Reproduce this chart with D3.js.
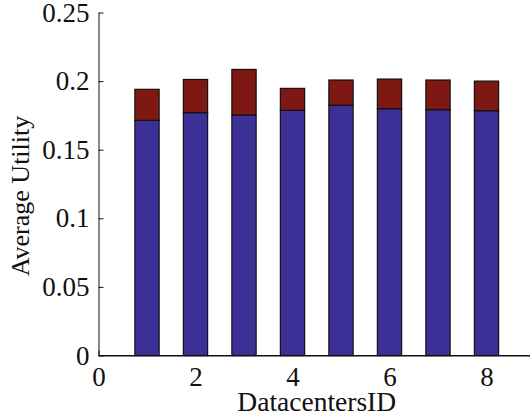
<!DOCTYPE html>
<html>
<head>
<meta charset="utf-8">
<script src="https://cdn.jsdelivr.net/npm/d3@7"></script>
</head>
<body style="margin:0">
<svg id="chart" width="530" height="418"></svg>
<script>
'use strict';

// datacenter ids and the two stacked parts of each bar
var datacenters = [1, 2, 3, 4, 5, 6, 7, 8];
var baseUtility = [0.1714, 0.1770, 0.1753, 0.1787, 0.1824, 0.1799, 0.1792, 0.1784];
var extraUtility = [0.0226, 0.0242, 0.0332, 0.0160, 0.0184, 0.0216, 0.0216, 0.0216];
var xTicks = [0, 2, 4, 6, 8];
var yTicks = [0, 0.05, 0.1, 0.15, 0.2, 0.25];

var svg = d3.select('#chart');

// pick the first times-like face that is really installed
function pickFont(candidates) {
    var probe = svg.append('text').style('font-size', '40px').text('DatacentersID Average');
    probe.style('font-family', 'monospace');
    var mono = probe.node().getComputedTextLength();
    var found = null;
    candidates.forEach(function(f) {
        if (found) return;
        probe.style('font-family', '"' + f + '", monospace');
        if (Math.abs(probe.node().getComputedTextLength() - mono) > 1) found = f;
    });
    probe.remove();
    return found ? '"' + found + '", serif' : 'serif';
}
var FONT = pickFont(['Liberation Serif', 'Times New Roman', 'Tinos', 'FreeSerif', 'DejaVu Serif']);

var plot = { left: 98.5, right: 535, top: 12.5, bottom: 355.5 };

var x = d3.scaleLinear().domain([0, 9]).range([plot.left, plot.right]);
var y = d3.scaleLinear().domain([0, 0.25]).range([plot.bottom, plot.top]);

var rows = datacenters.map(function(id, i) {
    return { id: id, base: baseUtility[i], extra: extraUtility[i] };
});
var stack = d3.stack().keys(['base', 'extra'])(rows);
var colors = ['#3c3096', '#7d1812'];

// axes (ticks point inward, like matlab)
var yAxis = d3.axisLeft(y).tickValues(yTicks).tickSizeInner(-5).tickSizeOuter(0)
    .tickPadding(9).tickFormat(function(d) { return d3.format('')(d); });
var xAxis = d3.axisBottom(x).tickValues(xTicks).tickSizeInner(-5).tickSizeOuter(0)
    .tickPadding(11);

var gy = svg.append('g').attr('transform', 'translate(' + plot.left + ',0)').call(yAxis);
var gx = svg.append('g').attr('transform', 'translate(0,' + plot.bottom + ')').call(xAxis);

[gx, gy].forEach(function(g) {
    g.attr('font-family', FONT).attr('font-size', 27);
    g.select('.domain').attr('stroke', '#111').attr('stroke-width', 1);
    g.selectAll('.tick line').attr('stroke', '#111');
    g.selectAll('.tick text')
        .style('font-family', FONT)
        .style('font-size', '27px')
        .attr('fill', '#111');
});
gx.selectAll('.tick text').attr('dy', '0.71em');

var barW = x(0.5) - x(0);
svg.append('g').selectAll('g')
    .data(stack)
    .enter().append('g')
        .attr('fill', function(d, i) { return colors[i]; })
    .selectAll('rect')
    .data(function(d) { return d; })
    .enter().append('rect')
        .attr('x', function(d) { return x(d.data.id) - barW / 2; })
        .attr('y', function(d) { return y(d[1]); })
        .attr('width', barW)
        .attr('height', function(d) { return y(d[0]) - y(d[1]); })
        .attr('stroke', '#111')
        .attr('stroke-width', 1.2);

// redraw the baseline on top of the bars
svg.append('line')
    .attr('x1', plot.left).attr('x2', plot.right)
    .attr('y1', plot.bottom).attr('y2', plot.bottom)
    .attr('stroke', '#111');

svg.append('text')
    .attr('x', (plot.left + plot.right) / 2)
    .attr('y', 411)
    .attr('text-anchor', 'middle')
    .attr('font-family', FONT)
    .style('font-family', FONT)
    .style('font-size', '27.5px')
    .attr('fill', '#111')
    .text('DatacentersID');

svg.append('text')
    .attr('transform', 'translate(29,' + ((plot.top + plot.bottom) / 2 + 12) + ') rotate(-90)')
    .attr('text-anchor', 'middle')
    .attr('font-family', FONT)
    .style('font-family', FONT)
    .style('font-size', '26px')
    .attr('fill', '#111')
    .text('Average Utility');
</script>
</body>
</html>
